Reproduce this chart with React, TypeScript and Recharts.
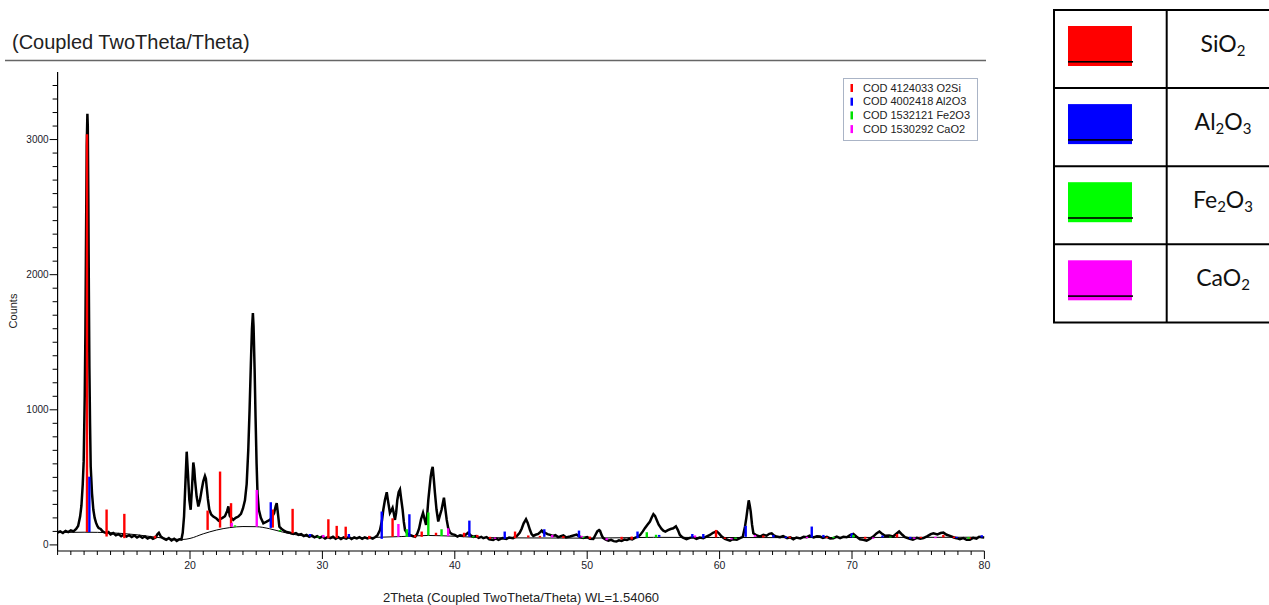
import React from 'react';
import { ComposedChart, Line, XAxis, YAxis, ReferenceLine, Label } from 'recharts';

// Measured scan: [2Theta, counts]
const scan: [number, number][] = [
  [10.0, 92], [10.2, 100], [10.4, 88], [10.6, 104], [10.8, 95], [11.0, 108], [11.2, 100], [11.4, 118], [11.55, 140],
  [11.7, 210], [11.8, 290], [11.9, 450], [11.97, 620], [12.05, 1100], [12.1, 1570], [12.15, 2300], [12.2, 2950],
  [12.25, 3190], [12.28, 3100], [12.32, 2560], [12.36, 1900], [12.4, 1320], [12.45, 900], [12.5, 580], [12.6, 380],
  [12.7, 260], [12.8, 200], [12.9, 165], [13.0, 140], [13.1, 125], [13.25, 118], [13.4, 100], [13.55, 92], [13.7, 85],
  [13.85, 95], [14.0, 78], [14.2, 88], [14.4, 72], [14.6, 80], [14.8, 65], [15.0, 76], [15.2, 62], [15.4, 72],
  [15.6, 58], [15.8, 70], [16.0, 55], [16.2, 66], [16.4, 52], [16.6, 63], [16.8, 48], [17.0, 58], [17.2, 45],
  [17.4, 55], [17.55, 80], [17.65, 90], [17.8, 62], [18.0, 48], [18.2, 38], [18.4, 50], [18.6, 33], [18.8, 45],
  [19.0, 30], [19.2, 42], [19.35, 40], [19.45, 90], [19.55, 210], [19.65, 450], [19.75, 690], [19.85, 520],
  [19.95, 333], [20.05, 260], [20.15, 420], [20.25, 610], [20.32, 560], [20.38, 480], [20.5, 360], [20.63, 284],
  [20.75, 330], [20.88, 407], [21.0, 470], [21.13, 510], [21.2, 490], [21.26, 430], [21.35, 340], [21.46, 260],
  [21.6, 225], [21.76, 210], [22.0, 195], [22.15, 180], [22.27, 190], [22.45, 200], [22.64, 212], [22.8, 250],
  [22.9, 285], [23.0, 215], [23.15, 195], [23.27, 185], [23.45, 200], [23.65, 210], [23.85, 230], [24.0, 270],
  [24.15, 330], [24.28, 450], [24.4, 700], [24.5, 1000], [24.6, 1350], [24.68, 1600], [24.75, 1715], [24.8, 1620],
  [24.88, 1300], [24.95, 950], [25.03, 600], [25.1, 380], [25.2, 260], [25.35, 200], [25.54, 160], [25.75, 170],
  [26.04, 185], [26.2, 210], [26.35, 235], [26.48, 290], [26.55, 310], [26.62, 250], [26.75, 135], [26.9, 120],
  [27.1, 105], [27.3, 95], [27.55, 90], [27.8, 82], [28.0, 88], [28.2, 75], [28.4, 80], [28.6, 66], [28.8, 74],
  [29.0, 60], [29.2, 70], [29.4, 56], [29.6, 65], [29.8, 52], [30.0, 62], [30.2, 48], [30.4, 58], [30.6, 50],
  [30.8, 60], [31.0, 46], [31.2, 57], [31.4, 44], [31.6, 55], [31.8, 47], [32.0, 58], [32.2, 44], [32.4, 55],
  [32.6, 48], [32.8, 58], [33.0, 45], [33.2, 56], [33.4, 48], [33.6, 54], [33.8, 46], [34.0, 58], [34.15, 70],
  [34.35, 110], [34.5, 180], [34.6, 260], [34.72, 330], [34.86, 390], [34.95, 330], [35.1, 237], [35.2, 255],
  [35.3, 275], [35.4, 230], [35.48, 185], [35.57, 240], [35.66, 333], [35.76, 390], [35.86, 410], [35.95, 340],
  [36.06, 260], [36.15, 170], [36.24, 110], [36.4, 85], [36.6, 74], [36.8, 66], [37.0, 60], [37.15, 80], [37.3, 120],
  [37.45, 190], [37.6, 237], [37.72, 190], [37.83, 148], [37.92, 230], [38.0, 333], [38.1, 430], [38.18, 506],
  [38.26, 555], [38.33, 578], [38.42, 480], [38.5, 385], [38.62, 260], [38.75, 173], [38.88, 220], [39.0, 260],
  [39.1, 310], [39.18, 350], [39.28, 270], [39.39, 185], [39.5, 125], [39.64, 90], [39.8, 80], [40.0, 74], [40.2, 62],
  [40.4, 72], [40.65, 67], [40.85, 78], [41.0, 90], [41.2, 70], [41.4, 60], [41.6, 66], [41.8, 52], [42.0, 60],
  [42.15, 50], [42.4, 58], [42.6, 42], [42.9, 37], [43.1, 48], [43.3, 38], [43.6, 50], [43.9, 44], [44.1, 55],
  [44.4, 50], [44.7, 67], [44.9, 90], [45.05, 120], [45.2, 160], [45.38, 190], [45.5, 165], [45.68, 110], [45.8, 80],
  [45.93, 67], [46.1, 75], [46.3, 81], [46.45, 95], [46.56, 106], [46.7, 92], [46.8, 90], [47.0, 80], [47.2, 74],
  [47.4, 66], [47.6, 72], [47.8, 58], [47.95, 62], [48.2, 70], [48.4, 56], [48.7, 62], [48.9, 68], [49.2, 76],
  [49.45, 60], [49.7, 52], [50.0, 58], [50.2, 45], [50.46, 44], [50.6, 70], [50.76, 100], [50.9, 110], [50.97, 105],
  [51.1, 70], [51.2, 52], [51.4, 40], [51.6, 32], [51.8, 38], [52.0, 28], [52.2, 25], [52.4, 34], [52.6, 30],
  [52.8, 40], [53.0, 37], [53.2, 45], [53.4, 40], [53.6, 52], [53.8, 60], [54.0, 74], [54.2, 100], [54.37, 126],
  [54.55, 150], [54.74, 173], [54.88, 205], [55.0, 228], [55.12, 215], [55.25, 185], [55.4, 150], [55.5, 135],
  [55.6, 120], [55.75, 105], [55.9, 99], [56.1, 110], [56.3, 118], [56.5, 123], [56.7, 138], [56.85, 110], [57.0, 74],
  [57.2, 55], [57.5, 42], [57.75, 52], [58.0, 57], [58.25, 45], [58.5, 55], [58.77, 50], [59.0, 62], [59.27, 74],
  [59.5, 90], [59.78, 100], [59.95, 85], [60.16, 62], [60.4, 45], [60.6, 38], [60.79, 32], [61.0, 42], [61.3, 38],
  [61.54, 50], [61.75, 60], [61.92, 136], [62.02, 200], [62.1, 260], [62.2, 330], [62.28, 290], [62.35, 247],
  [62.45, 150], [62.55, 86], [62.8, 70], [63.05, 62], [63.3, 75], [63.55, 68], [63.75, 82], [63.93, 86], [64.1, 70],
  [64.3, 62], [64.56, 57], [64.8, 66], [65.1, 50], [65.35, 56], [65.57, 42], [65.8, 55], [66.1, 48], [66.35, 60],
  [66.58, 57], [66.8, 68], [67.1, 55], [67.35, 64], [67.58, 62], [67.8, 52], [68.1, 60], [68.35, 48], [68.59, 50],
  [68.85, 62], [69.1, 50], [69.35, 60], [69.6, 57], [69.85, 72], [70.1, 81], [70.35, 60], [70.6, 42], [70.85, 38],
  [71.1, 32], [71.35, 45], [71.6, 62], [71.85, 85], [72.07, 99], [72.3, 80], [72.5, 67], [72.8, 70], [73.1, 62],
  [73.35, 82], [73.56, 99], [73.8, 75], [74.0, 57], [74.3, 48], [74.6, 39], [74.9, 52], [75.15, 45], [75.4, 50],
  [75.7, 65], [75.95, 80], [76.15, 86], [76.45, 78], [76.7, 88], [76.9, 91], [77.15, 75], [77.4, 67], [77.7, 55],
  [77.9, 50], [78.15, 42], [78.4, 50], [78.65, 38], [78.9, 39], [79.15, 52], [79.4, 46], [79.6, 60], [79.8, 57],
  [80.0, 55],
];

// Fitted background curve: [2Theta, counts]
const background: [number, number][] = [
  [10, 92], [12, 94], [14, 90], [16, 75], [18, 50], [19.4, 40], [20, 48], [21, 82], [22, 110], [23, 128], [24, 136],
  [25, 135], [26, 120], [27, 95], [28, 75], [29, 62], [30, 55], [32, 52], [34, 56], [36, 62], [38, 70], [40, 64],
  [42, 55], [45, 52], [50, 50], [55, 56], [60, 55], [65, 54], [70, 55], [75, 56], [80, 57],
];

// Reference sticks: [2Theta, base counts, top counts]
const sio2Sticks: [number, number, number][] = [
  [12.22, 95, 3040], [13.7, 62, 262], [15.04, 50, 230], [17.36, 48, 68], [21.33, 111, 254], [22.27, 128, 543],
  [23.1, 135, 309], [26.25, 128, 262], [27.75, 86, 267], [30.45, 50, 190], [31.08, 50, 141], [31.76, 50, 135],
  [33.54, 45, 67], [35.3, 60, 197], [37.0, 55, 74], [37.5, 60, 99], [38.58, 70, 90], [40.7, 60, 90], [41.7, 55, 74],
  [42.66, 45, 60], [44.55, 50, 99], [45.55, 55, 70], [46.43, 55, 67], [48.2, 50, 65], [50.2, 45, 62], [52.6, 40, 60],
  [53.36, 40, 62], [59.73, 55, 111], [60.4, 45, 55], [63.3, 55, 70], [65.3, 50, 62], [68.1, 50, 60], [71.0, 45, 60],
  [73.4, 55, 81], [75.2, 50, 60], [76.9, 55, 74], [77.7, 50, 62], [78.9, 45, 55],
];
const al2o3Sticks: [number, number, number][] = [
  [12.4, 95, 505], [26.1, 126, 316], [29.06, 62, 81], [32.0, 55, 81], [34.48, 45, 247], [36.57, 60, 227],
  [41.1, 60, 180], [43.77, 45, 99], [46.76, 60, 116], [49.38, 55, 106], [53.8, 50, 99], [55.44, 60, 74],
  [57.94, 55, 81], [58.77, 50, 81], [61.97, 60, 141], [64.06, 55, 74], [65.0, 50, 62], [66.96, 55, 136],
  [67.84, 55, 74], [69.98, 55, 86], [72.3, 55, 70], [74.4, 45, 60], [77.9, 50, 60], [79.8, 55, 72],
];
const fe2o3Sticks: [number, number, number][] = [
  [23.4, 135, 145], [26.8, 100, 110], [29.7, 55, 62], [36.37, 60, 116], [38.0, 70, 240], [39.0, 65, 116],
  [41.4, 55, 65], [49.7, 50, 60], [54.5, 55, 94], [55.2, 55, 75], [61.2, 45, 55], [68.6, 50, 60], [70.1, 55, 74],
  [72.9, 55, 62], [78.8, 45, 58],
];
const cao2Sticks: [number, number, number][] = [
  [23.15, 135, 163], [25.04, 135, 407], [30.07, 55, 74], [35.74, 60, 155], [39.5, 65, 123], [43.04, 45, 55],
  [47.36, 55, 74], [49.58, 55, 67], [51.47, 35, 50], [58.14, 55, 70], [60.9, 40, 50], [62.67, 60, 74],
  [66.6, 50, 60], [71.6, 45, 55], [74.7, 45, 55], [76.3, 50, 60],
];

const xMajorTicks = [20, 30, 40, 50, 60, 70, 80];
const yMajorTicks = [0, 1000, 2000, 3000];
const xTicks = Array.from({ length: 71 }, (_, i) => 10 + i);
const yTicks = Array.from({ length: 35 }, (_, i) => i * 100);

const legendEntries = [
  { color: '#ff0000', label: 'COD 4124033 O2Si' },
  { color: '#0000ff', label: 'COD 4002418 Al2O3' },
  { color: '#00e000', label: 'COD 1532121 Fe2O3' },
  { color: '#ff00ff', label: 'COD 1530292 CaO2' },
];

const tableRows = [
  { color: '#ff0000', parts: [['Si', false], ['O', false], ['2', true]] },
  { color: '#0000ff', parts: [['Al', false], ['2', true], ['O', false], ['3', true]] },
  { color: '#00ff00', parts: [['Fe', false], ['2', true], ['O', false], ['3', true]] },
  { color: '#ff00ff', parts: [['Ca', false], ['O', false], ['2', true]] },
] as { color: string; parts: [string, boolean][] }[];

const scanData = scan.map(([x, y]) => ({ x, y }));
const bgData = background.map(([x, y]) => ({ x, y }));

const FONT = '"Liberation Sans", Arial, sans-serif';

const XTick = (props: any) => {
  const { x, y, payload } = props;
  const v = payload.value;
  const major = xMajorTicks.includes(v);
  return (
    <g>
      <line x1={x} x2={x} y1={y} y2={y + (major ? 8 : 4)} stroke="#000" strokeWidth={1} />
      {major && (
        <text x={x} y={y + 18} textAnchor="middle" fontSize={10.5} fontFamily={FONT} fill="#1a1a2a">
          {v}
        </text>
      )}
    </g>
  );
};

const YTick = (props: any) => {
  const { x, y, payload } = props;
  const v = payload.value;
  const major = yMajorTicks.includes(v);
  return (
    <g>
      <line x1={x} x2={x - (major ? 8 : 5)} y1={y} y2={y} stroke="#000" strokeWidth={1} />
      {major && (
        <text x={x - 9} y={y + 3.5} textAnchor="end" fontSize={10} fontFamily={FONT} fill="#1a1a2a">
          {v}
        </text>
      )}
    </g>
  );
};

const stickGroups: [string, [number, number, number][]][] = [
  ['#ff0000', sio2Sticks],
  ['#0000ff', al2o3Sticks],
  ['#00e000', fe2o3Sticks],
  ['#ff00ff', cao2Sticks],
];

export default function App() {
  return (
    <div style={{ position: 'absolute', left: 0, top: 0, width: 1269, height: 605, background: '#fff', overflow: 'hidden' }}>
      <div style={{ position: 'absolute', left: 0, top: 0 }}>
        <ComposedChart width={1000} height={605} margin={{ top: 72, right: 15.6, left: 5.6, bottom: 0 }}>
          <XAxis
            dataKey="x"
            type="number"
            domain={[10, 80]}
            ticks={xTicks}
            interval={0}
            tick={<XTick />}
            tickLine={false}
            tickSize={0}
            tickMargin={0}
            height={54}
            allowDataOverflow
            axisLine={{ stroke: '#000', strokeWidth: 1.2 }}
          >
            <Label
              value="2Theta (Coupled TwoTheta/Theta) WL=1.54060"
              position="insideBottom"
              offset={3}
              fontSize={13}
              fontFamily={FONT}
              fill="#222"
            />
          </XAxis>
          <YAxis
            type="number"
            domain={[-45, 3500]}
            ticks={yTicks}
            interval={0}
            tick={<YTick />}
            tickLine={false}
            tickSize={0}
            tickMargin={0}
            width={52}
            allowDataOverflow
            axisLine={{ stroke: '#000', strokeWidth: 1.2 }}
          />
          <Line
            data={bgData}
            dataKey="y"
            type="monotone"
            stroke="#000"
            strokeWidth={1}
            dot={false}
            isAnimationActive={false}
          />
          <Line
            data={scanData}
            dataKey="y"
            type="linear"
            stroke="#000"
            strokeWidth={2.5}
            dot={false}
            isAnimationActive={false}
          />
          {stickGroups.map(([color, sticks]) =>
            sticks.map(([pos, base, top], i) => (
              <ReferenceLine
                key={color + i}
                segment={[{ x: pos, y: base }, { x: pos, y: top }]}
                stroke={color}
                strokeWidth={2.4}
              />
            ))
          )}
        </ComposedChart>
      </div>
      <svg
        width={1269}
        height={605}
        style={{ position: 'absolute', left: 0, top: 0, pointerEvents: 'none' }}
        fontFamily={FONT}
      >
        <text x={12} y={49} fontSize={20} fill="#222">(Coupled TwoTheta/Theta)</text>
        <line x1={5} x2={986} y1={60.5} y2={60.5} stroke="#666" strokeWidth={1.5} />
        <text x={0} y={0} fontSize={11} fill="#222" textAnchor="middle" transform="translate(17,311) rotate(-90)">
          Counts
        </text>
        <rect x={843.5} y={78.5} width={134} height={62} fill="#fff" stroke="#aab4c6" strokeWidth={1} />
        {legendEntries.map((e, i) => (
          <g key={e.label}>
            <rect x={850.5} y={84 + i * 13.7} width={2.5} height={8} fill={e.color} />
            <text x={863} y={91.5 + i * 13.7} fontSize={11} fill="#222">{e.label}</text>
          </g>
        ))}
        <g>
          <rect x={1054} y={10} width={240} height={312.5} fill="none" stroke="#000" strokeWidth={2} />
          <line x1={1166.7} x2={1166.7} y1={10} y2={322.5} stroke="#000" strokeWidth={2} />
          {[1, 2, 3].map((k) => (
            <line key={k} x1={1054} x2={1269} y1={10 + k * 78.1} y2={10 + k * 78.1} stroke="#000" strokeWidth={2} />
          ))}
          {tableRows.map((r, i) => {
            const top = 10 + i * 78.1;
            return (
              <g key={i}>
                <rect x={1068} y={top + 16} width={64} height={40} fill={r.color} />
                <rect x={1068} y={top + 51} width={65} height={1.6} fill="#000" />
                <text x={1223} y={top + 42} textAnchor="middle" fontSize={23} fontFamily="Lato, sans-serif" fill="#111">
                  {r.parts.map(([t, sub], j) => {
                    const prevSub = j > 0 && r.parts[j - 1][1];
                    const dy = sub && !prevSub ? 4 : !sub && prevSub ? -4 : 0;
                    return (
                      <tspan key={j} dy={dy} fontSize={sub ? 15 : 23}>
                        {t}
                      </tspan>
                    );
                  })}
                </text>
              </g>
            );
          })}
        </g>
      </svg>
    </div>
  );
}
